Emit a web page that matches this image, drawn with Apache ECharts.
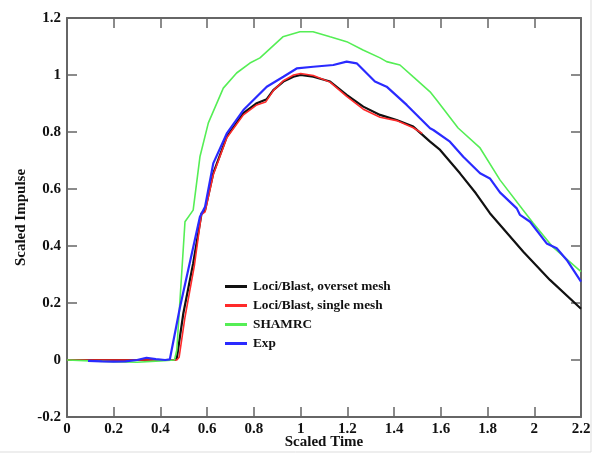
<!DOCTYPE html>
<html>
<head>
<meta charset="utf-8">
<script src="https://cdn.jsdelivr.net/npm/echarts@6/dist/echarts.min.js"></script>
<style>html,body{margin:0;padding:0;background:#fff;}#c{width:596px;height:455px;}</style>
</head>
<body>
<div id="c"></div>
<script>
const seriesNames = ['Loci/Blast, overset mesh', 'Loci/Blast, single mesh', 'SHAMRC', 'Exp'];
const xTicks = [0, 0.2, 0.4, 0.6, 0.8, 1, 1.2, 1.4, 1.6, 1.8, 2, 2.2];
const yTicks = [-0.2, 0, 0.2, 0.4, 0.6, 0.8, 1, 1.2];

const oversetMesh = [[0,0],[0.1,0],[0.2,0],[0.3,0],[0.4,0],[0.46,0],[0.47,0.006],[0.498,0.164],[0.54,0.339],[0.576,0.515],[0.591,0.526],[0.626,0.655],[0.684,0.784],[0.755,0.866],[0.812,0.901],[0.855,0.915],[0.883,0.947],[0.926,0.977],[0.969,0.994],[1.0,1.0],[1.054,0.994],[1.126,0.977],[1.197,0.930],[1.268,0.889],[1.34,0.860],[1.411,0.842],[1.482,0.819],[1.554,0.766],[1.597,0.737],[1.682,0.655],[1.75,0.585],[1.81,0.515],[1.953,0.380],[2.067,0.281],[2.2,0.18]];
const singleMesh = [[0,0],[0.1,0],[0.2,0],[0.3,0],[0.4,0],[0.47,0],[0.48,0.01],[0.505,0.15],[0.545,0.33],[0.575,0.51],[0.591,0.52],[0.626,0.65],[0.684,0.78],[0.755,0.86],[0.812,0.895],[0.85,0.905],[0.883,0.945],[0.926,0.98],[0.97,1.0],[1.0,1.005],[1.054,0.998],[1.126,0.975],[1.197,0.925],[1.268,0.88],[1.34,0.852],[1.411,0.84],[1.482,0.815],[1.52,0.795]];
const shamrc = [[0,0],[0.1,-0.003],[0.2,-0.006],[0.3,-0.008],[0.4,-0.003],[0.46,0],[0.47,0.035],[0.505,0.485],[0.54,0.526],[0.569,0.713],[0.605,0.832],[0.669,0.954],[0.726,1.007],[0.783,1.042],[0.826,1.06],[0.924,1.134],[0.997,1.152],[1.053,1.152],[1.126,1.134],[1.197,1.117],[1.267,1.088],[1.34,1.06],[1.368,1.047],[1.425,1.035],[1.481,0.994],[1.554,0.941],[1.582,0.912],[1.674,0.814],[1.768,0.744],[1.853,0.632],[1.952,0.526],[1.995,0.481],[2.08,0.396],[2.2,0.31]];
const experiment = [[0.09,-0.003],[0.15,-0.005],[0.2,-0.006],[0.25,-0.005],[0.3,0],[0.34,0.008],[0.38,0.003],[0.42,0],[0.44,0.002],[0.484,0.187],[0.569,0.503],[0.591,0.538],[0.626,0.690],[0.684,0.795],[0.755,0.877],[0.855,0.959],[0.926,0.994],[0.983,1.023],[1.054,1.029],[1.14,1.035],[1.197,1.047],[1.24,1.041],[1.318,0.977],[1.368,0.959],[1.454,0.895],[1.511,0.848],[1.554,0.813],[1.568,0.807],[1.639,0.766],[1.696,0.713],[1.768,0.655],[1.81,0.637],[1.853,0.588],[1.925,0.532],[1.939,0.509],[1.982,0.485],[2.053,0.409],[2.096,0.392],[2.139,0.351],[2.2,0.275]];

const seriesData = [oversetMesh, singleMesh, shamrc, experiment];
const colors = ['#111111', '#ff2a2a', '#55ee55', '#2a2aff'];
const widths = [2.2, 1.6, 1.6, 2.2];

const font = 'Liberation Serif';
const axisColor = '#666';
const chart = echarts.init(document.getElementById('c'), null, {renderer: 'canvas'});

function fmt(v) { return String(Math.round(v * 10) / 10); }

function axisBase() {
  return {
    axisLine: {show: true, onZero: false, lineStyle: {color: axisColor, width: 2}},
    axisTick: {show: true, inside: true, length: 10, lineStyle: {color: axisColor, width: 1.5}},
    splitLine: {show: false}
  };
}

chart.setOption({
  animation: false,
  backgroundColor: '#fff',
  grid: {left: 67, right: 15, top: 18, bottom: 38, containLabel: false, outerBoundsMode: 'none'},
  graphic: [
    {type: 'line', shape: {x1: 591, y1: 0, x2: 591, y2: 452}, style: {stroke: '#ddd', lineWidth: 1}},
    {type: 'line', shape: {x1: 0, y1: 452, x2: 591, y2: 452}, style: {stroke: '#ddd', lineWidth: 1}}
  ],
  legend: {
    show: true,
    orient: 'vertical',
    left: 220,
    top: 274,
    icon: 'rect',
    itemWidth: 22,
    itemHeight: 3,
    itemGap: 4,
    data: seriesNames,
    textStyle: {fontFamily: font, fontWeight: 'bold', fontSize: 13.3, color: '#111', padding: [0, 0, 0, 1], lineHeight: 15}
  },
  xAxis: [
    Object.assign(axisBase(), {
      type: 'value', min: xTicks[0], max: xTicks[xTicks.length - 1], interval: 0.2,
      position: 'bottom',
      name: 'Scaled Time', nameLocation: 'middle', nameGap: 18, nameMoveOverlap: false,
      nameTextStyle: {fontFamily: font, fontWeight: 'bold', fontSize: 15, color: '#111'},
      axisLabel: {fontFamily: font, fontWeight: 'bold', fontSize: 15, color: '#111', margin: 5, formatter: fmt}
    }),
    Object.assign(axisBase(), {
      type: 'value', min: xTicks[0], max: xTicks[xTicks.length - 1], interval: 0.2,
      position: 'top', axisLabel: {show: false}
    })
  ],
  yAxis: [
    Object.assign(axisBase(), {
      type: 'value', min: yTicks[0], max: yTicks[yTicks.length - 1], interval: 0.2,
      position: 'left',
      name: 'Scaled Impulse', nameLocation: 'middle', nameGap: 38, nameRotate: 90, nameMoveOverlap: false,
      nameTextStyle: {fontFamily: font, fontWeight: 'bold', fontSize: 15, color: '#111'},
      axisLabel: {fontFamily: font, fontWeight: 'bold', fontSize: 15, color: '#111', margin: 6, formatter: fmt}
    }),
    Object.assign(axisBase(), {
      type: 'value', min: yTicks[0], max: yTicks[yTicks.length - 1], interval: 0.2,
      position: 'right', axisLabel: {show: false}
    })
  ],
  series: seriesData.map((d, i) => ({
    name: seriesNames[i],
    type: 'line',
    xAxisIndex: 0,
    yAxisIndex: 0,
    data: d,
    symbol: 'none',
    smooth: false,
    lineStyle: {color: colors[i], width: widths[i]},
    itemStyle: {color: colors[i]},
    z: 2 + i
  }))
});
</script>
</body>
</html>
